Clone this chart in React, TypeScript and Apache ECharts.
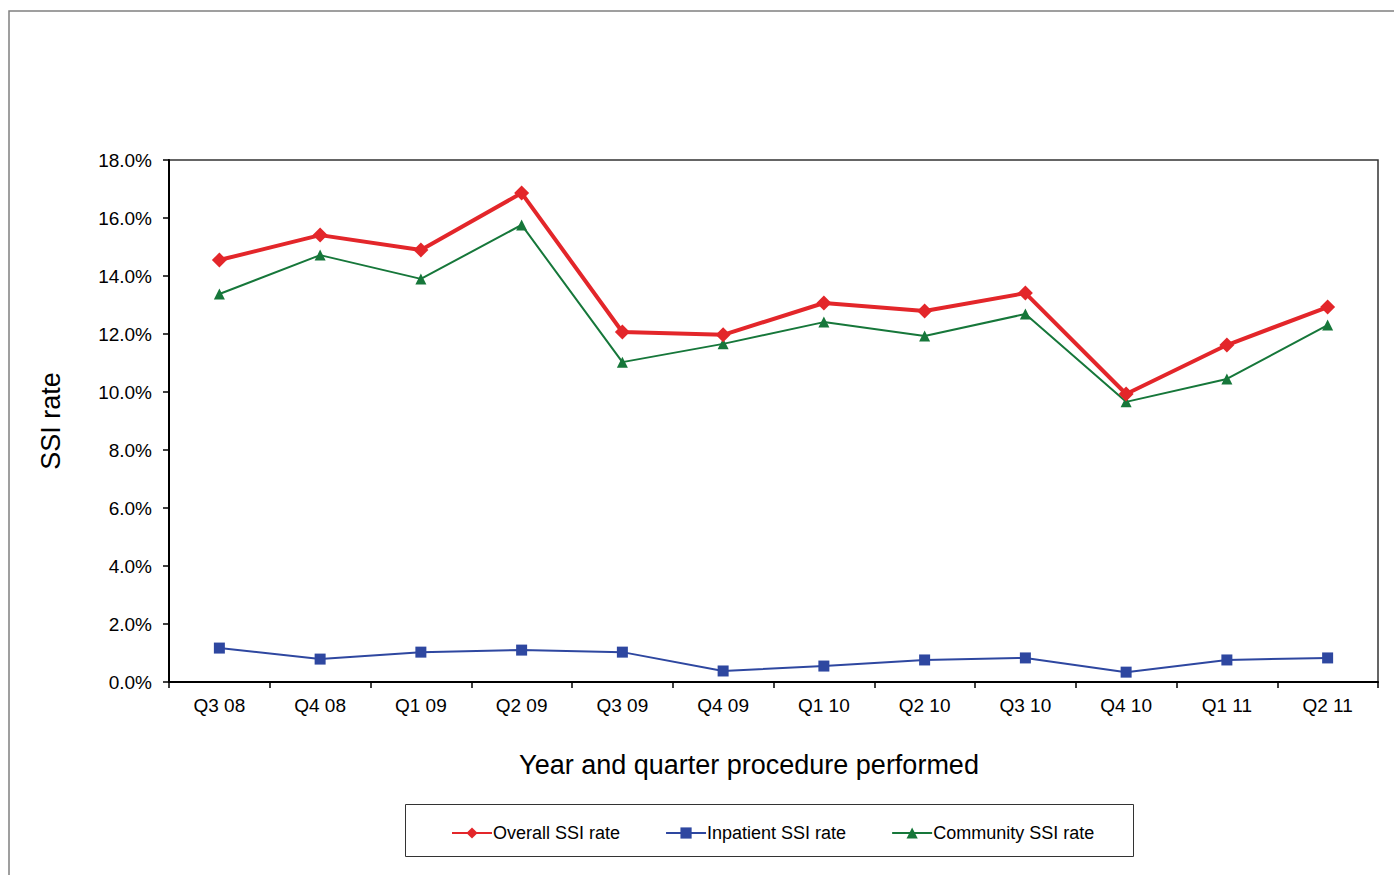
import React, { useEffect, useRef } from "react";
import * as echarts from "echarts";

const categories = ["Q3 08", "Q4 08", "Q1 09", "Q2 09", "Q3 09", "Q4 09", "Q1 10", "Q2 10", "Q3 10", "Q4 10", "Q1 11", "Q2 11"];
const overallRate = [0.1455, 0.1541, 0.149, 0.1686, 0.1207, 0.1197, 0.1307, 0.1279, 0.1341, 0.0993, 0.1162, 0.1293];
const inpatientRate = [0.0117, 0.0079, 0.0103, 0.011, 0.0103, 0.0038, 0.0055, 0.0076, 0.0083, 0.0034, 0.0076, 0.0083];
const communityRate = [0.1338, 0.1472, 0.139, 0.1576, 0.1103, 0.1166, 0.1241, 0.1193, 0.1269, 0.0966, 0.1045, 0.1231];
const seriesNames = ["Overall SSI rate", "Inpatient SSI rate", "Community SSI rate"];
const xAxisTitle = "Year and quarter procedure performed";
const yAxisTitle = "SSI rate";

const FONT = '"Liberation Sans", Arial, Helvetica, sans-serif';

export default function App() {
  const ref = useRef<HTMLDivElement>(null);
  useEffect(() => {
    if (!ref.current) return;
    const chart = echarts.init(ref.current, null, { renderer: "svg" });
    chart.setOption({
      animation: false,
      backgroundColor: "#ffffff",
      textStyle: { fontFamily: FONT },
      grid: {
        left: 169,
        top: 160,
        right: 16,
        bottom: 193,
        show: true,
        borderColor: "#333333",
        borderWidth: 1.5,
        backgroundColor: "transparent",
      },
      graphic: [
        {
          type: "rect",
          shape: { x: 9, y: 11, width: 1420, height: 900 },
          style: { fill: "none", stroke: "#808080", lineWidth: 1.5 },
          silent: true,
        },
        {
          type: "rect",
          shape: { x: 405.5, y: 804.5, width: 728, height: 52 },
          style: { fill: "none", stroke: "#333333", lineWidth: 1 },
          silent: true,
        },
        {
          type: "text",
          x: 749,
          y: 765,
          style: {
            text: xAxisTitle,
            fontSize: 27,
            fontFamily: FONT,
            fill: "#000000",
            align: "center",
            verticalAlign: "middle",
          },
          silent: true,
        },
      ],
      legend: {
        left: 446,
        top: 819,
        itemWidth: 40,
        itemHeight: 14,
        itemGap: 45,
        data: seriesNames,
        textStyle: { fontSize: 18, fontFamily: FONT, color: "#000000", padding: [0, 0, 0, -4] },
      },
      xAxis: {
        type: "category",
        data: categories,
        boundaryGap: true,
        axisLine: { lineStyle: { color: "#000000", width: 2 } },
        axisTick: { show: true, interval: 0, length: 6, lineStyle: { color: "#000000", width: 1.5 } },
        axisLabel: { fontSize: 19, color: "#000000", margin: 14, fontFamily: FONT, interval: 0 },
        splitLine: { show: false },
      },
      yAxis: {
        type: "value",
        min: 0,
        max: 0.18,
        interval: 0.02,
        name: yAxisTitle,
        nameLocation: "middle",
        nameGap: 105,
        nameRotate: 90,
        nameTextStyle: { fontSize: 27, color: "#000000", fontFamily: FONT },
        axisLine: { show: true, lineStyle: { color: "#000000", width: 2 } },
        axisTick: { show: true, length: 6, lineStyle: { color: "#000000", width: 1.5 } },
        axisLabel: {
          fontSize: 19,
          color: "#000000",
          margin: 17,
          fontFamily: FONT,
          formatter: (v: number) => (v * 100).toFixed(1) + "%",
        },
        splitLine: { show: false },
      },
      series: [
        {
          name: seriesNames[0],
          type: "line",
          data: overallRate,
          symbol: "diamond",
          symbolSize: 15,
          z: 5,
          lineStyle: { color: "#e3262a", width: 4 },
          itemStyle: { color: "#e3262a" },
        },
        {
          name: seriesNames[1],
          type: "line",
          data: inpatientRate,
          symbol: "rect",
          symbolSize: 11,
          z: 3,
          lineStyle: { color: "#2e47a0", width: 2 },
          itemStyle: { color: "#2e47a0" },
        },
        {
          name: seriesNames[2],
          type: "line",
          data: communityRate,
          symbol: "triangle",
          symbolSize: 11,
          z: 4,
          lineStyle: { color: "#16773a", width: 2 },
          itemStyle: { color: "#16773a" },
        },
      ],
    });
    return () => chart.dispose();
  }, []);
  return (
    <div
      ref={ref}
      style={{ position: "fixed", left: 0, top: 0, width: 1394, height: 875, background: "#fff" }}
    />
  );
}
